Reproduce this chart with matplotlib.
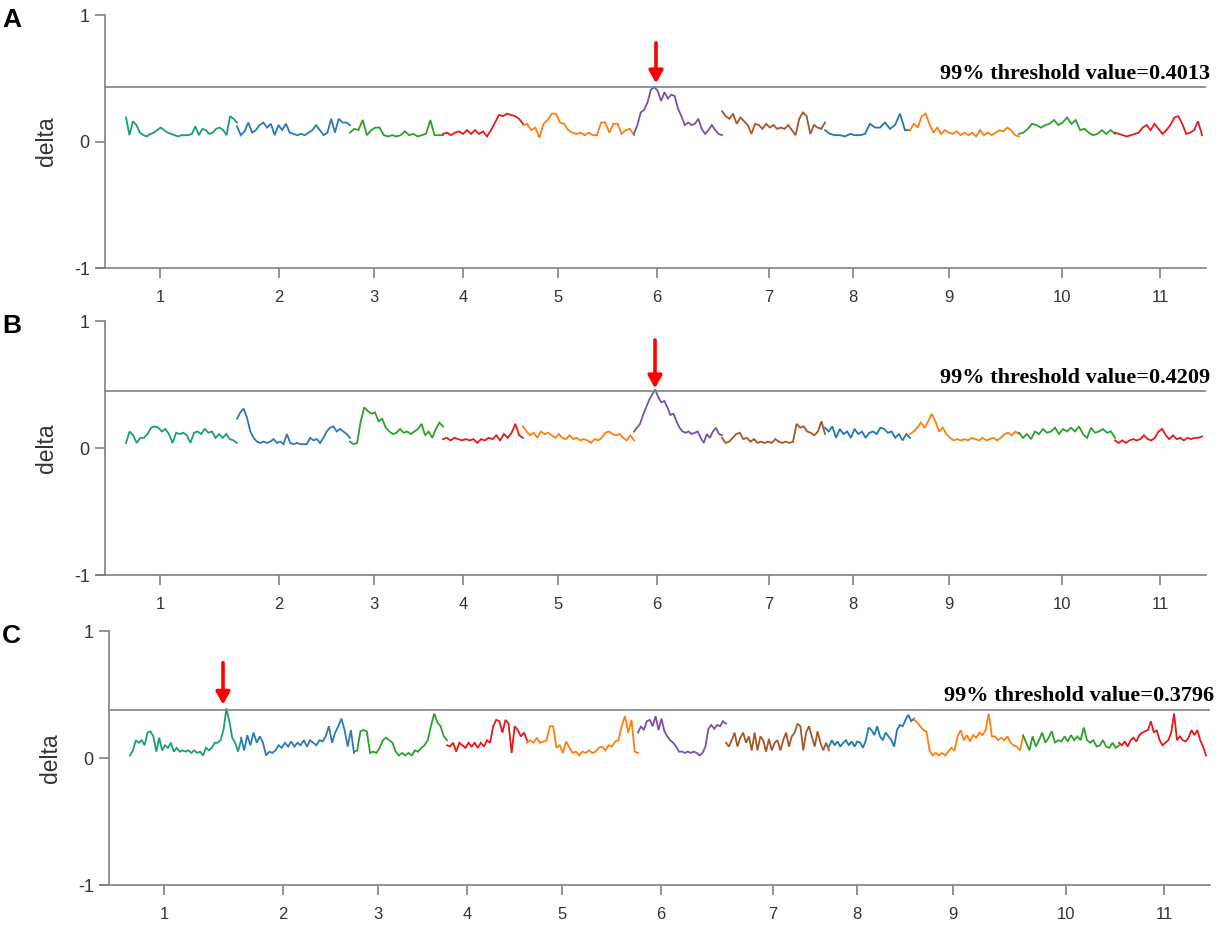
import numpy as np
import matplotlib
matplotlib.use('Agg')
import matplotlib.pyplot as plt

# chromosome layout (shared by the three panels)
chrom_len = [111, 113, 93, 80, 111, 88, 103, 85, 109, 96, 87]
chrom_colors = ['#1b9e77', '#2a7ab9', '#2ca02c', '#e31a1c', '#ff7f0e', '#7851a9',
                '#a65628', '#1f78b4', '#ff7f0e', '#2ca02c', '#e31a1c']
tick_pos = [34, 153, 248, 337, 432, 531, 643, 727, 823, 936, 1034]
tick_labels = ['1', '2', '3', '4', '5', '6', '7', '8', '9', '10', '11']

# panel A
delta_a = [
    [0.19, 0.05, 0.16, 0.13, 0.07, 0.05, 0.04, 0.06, 0.07, 0.09, 0.11, 0.09, 0.07, 0.06, 0.05, 0.04, 0.05,
     0.05, 0.05, 0.06, 0.12, 0.05, 0.10, 0.09, 0.06, 0.07, 0.10, 0.11, 0.09, 0.05, 0.20, 0.18, 0.15],
    [0.12, 0.05, 0.08, 0.15, 0.07, 0.09, 0.13, 0.15, 0.11, 0.14, 0.05, 0.13, 0.09, 0.14, 0.07, 0.06, 0.05,
     0.06, 0.05, 0.07, 0.09, 0.13, 0.09, 0.05, 0.07, 0.18, 0.07, 0.18, 0.15, 0.15, 0.13],
    [0.07, 0.10, 0.09, 0.17, 0.05, 0.09, 0.11, 0.11, 0.05, 0.04, 0.05, 0.04, 0.05, 0.08, 0.05, 0.06, 0.04,
     0.05, 0.06, 0.17, 0.05, 0.05, 0.05],
    [0.06, 0.07, 0.05, 0.07, 0.08, 0.06, 0.09, 0.06, 0.09, 0.06, 0.08, 0.04, 0.09, 0.15, 0.21, 0.20, 0.22,
     0.21, 0.20, 0.18, 0.14],
    [0.13, 0.14, 0.09, 0.11, 0.03, 0.14, 0.17, 0.22, 0.22, 0.15, 0.14, 0.09, 0.07, 0.06, 0.07, 0.05, 0.07,
     0.05, 0.05, 0.15, 0.15, 0.07, 0.14, 0.14, 0.06, 0.09, 0.10, 0.05],
    [0.06, 0.13, 0.23, 0.25, 0.31, 0.41, 0.43, 0.40, 0.32, 0.39, 0.34, 0.37, 0.36, 0.26, 0.20, 0.13, 0.15,
     0.13, 0.14, 0.18, 0.10, 0.06, 0.09, 0.13, 0.09, 0.06, 0.05],
    [0.24, 0.20, 0.18, 0.22, 0.14, 0.19, 0.16, 0.13, 0.06, 0.14, 0.13, 0.10, 0.14, 0.11, 0.13, 0.10, 0.11,
     0.10, 0.13, 0.09, 0.05, 0.18, 0.23, 0.20, 0.06, 0.13, 0.11, 0.10, 0.15],
    [0.09, 0.06, 0.05, 0.05, 0.04, 0.06, 0.05, 0.05, 0.06, 0.14, 0.11, 0.11, 0.15, 0.10, 0.13, 0.22, 0.09,
     0.09],
    [0.09, 0.14, 0.11, 0.20, 0.22, 0.14, 0.07, 0.11, 0.06, 0.09, 0.07, 0.06, 0.08, 0.05, 0.07, 0.05, 0.07,
     0.04, 0.09, 0.05, 0.07, 0.05, 0.07, 0.09, 0.08, 0.11, 0.09, 0.05, 0.04],
    [0.06, 0.07, 0.10, 0.14, 0.13, 0.11, 0.13, 0.14, 0.17, 0.13, 0.15, 0.19, 0.14, 0.17, 0.09, 0.10, 0.07,
     0.05, 0.06, 0.09, 0.06, 0.09, 0.06],
    [0.07, 0.06, 0.05, 0.04, 0.05, 0.06, 0.07, 0.11, 0.13, 0.09, 0.14, 0.10, 0.06, 0.09, 0.13, 0.19, 0.20,
     0.14, 0.06, 0.07, 0.09, 0.16, 0.05],
]

# panel B
delta_b = [
    [0.04, 0.13, 0.10, 0.04, 0.08, 0.08, 0.11, 0.16, 0.17, 0.16, 0.13, 0.15, 0.11, 0.04, 0.12, 0.11, 0.12,
     0.10, 0.04, 0.12, 0.13, 0.11, 0.15, 0.12, 0.13, 0.08, 0.11, 0.08, 0.11, 0.07, 0.06, 0.04],
    [0.23, 0.28, 0.31, 0.24, 0.13, 0.08, 0.05, 0.04, 0.05, 0.04, 0.05, 0.07, 0.04, 0.05, 0.03, 0.11, 0.04,
     0.03, 0.04, 0.03, 0.03, 0.03, 0.08, 0.06, 0.07, 0.04, 0.08, 0.13, 0.16, 0.17, 0.13, 0.15, 0.13, 0.11,
     0.08],
    [0.05, 0.03, 0.04, 0.21, 0.32, 0.29, 0.27, 0.28, 0.21, 0.23, 0.16, 0.13, 0.11, 0.12, 0.15, 0.12, 0.13,
     0.11, 0.13, 0.15, 0.19, 0.10, 0.13, 0.08, 0.15, 0.20, 0.17],
    [0.07, 0.08, 0.06, 0.08, 0.07, 0.06, 0.07, 0.06, 0.07, 0.04, 0.07, 0.06, 0.08, 0.07, 0.10, 0.06, 0.11,
     0.08, 0.12, 0.19, 0.10, 0.08],
    [0.17, 0.13, 0.10, 0.12, 0.08, 0.13, 0.11, 0.12, 0.10, 0.08, 0.11, 0.08, 0.07, 0.10, 0.07, 0.08, 0.06,
     0.07, 0.06, 0.04, 0.07, 0.06, 0.08, 0.12, 0.13, 0.11, 0.10, 0.11, 0.08, 0.06, 0.10, 0.06],
    [0.13, 0.16, 0.19, 0.26, 0.32, 0.38, 0.42, 0.46, 0.40, 0.36, 0.37, 0.32, 0.26, 0.27, 0.21, 0.16, 0.13,
     0.12, 0.13, 0.11, 0.12, 0.13, 0.08, 0.04, 0.11, 0.08, 0.13, 0.16, 0.11, 0.10],
    [0.08, 0.04, 0.05, 0.08, 0.11, 0.12, 0.07, 0.08, 0.05, 0.07, 0.04, 0.05, 0.04, 0.05, 0.04, 0.07, 0.05,
     0.04, 0.05, 0.04, 0.05, 0.19, 0.16, 0.17, 0.13, 0.12, 0.10, 0.13, 0.21, 0.11],
    [0.16, 0.13, 0.17, 0.08, 0.15, 0.11, 0.13, 0.08, 0.15, 0.11, 0.13, 0.08, 0.12, 0.13, 0.11, 0.16, 0.15,
     0.12, 0.13, 0.08, 0.11, 0.06, 0.11, 0.08],
    [0.11, 0.13, 0.16, 0.20, 0.16, 0.21, 0.27, 0.21, 0.13, 0.16, 0.11, 0.08, 0.06, 0.07, 0.06, 0.07, 0.06,
     0.08, 0.07, 0.06, 0.08, 0.06, 0.07, 0.08, 0.06, 0.08, 0.11, 0.12, 0.10, 0.13, 0.11],
    [0.12, 0.08, 0.11, 0.07, 0.13, 0.11, 0.15, 0.12, 0.13, 0.16, 0.11, 0.15, 0.13, 0.16, 0.13, 0.17, 0.11,
     0.08, 0.16, 0.12, 0.13, 0.15, 0.12, 0.13, 0.08],
    [0.06, 0.04, 0.06, 0.04, 0.06, 0.07, 0.06, 0.07, 0.10, 0.07, 0.06, 0.08, 0.13, 0.15, 0.10, 0.07, 0.10,
     0.07, 0.08, 0.06, 0.08, 0.07, 0.08, 0.08, 0.09],
]

# panel C
delta_c = [
    [0.02, 0.06, 0.14, 0.12, 0.14, 0.10, 0.20, 0.21, 0.17, 0.05, 0.16, 0.06, 0.10, 0.08, 0.12, 0.05, 0.08,
     0.05, 0.06, 0.05, 0.06, 0.04, 0.06, 0.04, 0.05, 0.02, 0.08, 0.06, 0.08, 0.12, 0.12, 0.14, 0.22, 0.39,
     0.29, 0.16, 0.12, 0.05, 0.14],
    [0.16, 0.06, 0.18, 0.10, 0.20, 0.12, 0.17, 0.12, 0.02, 0.05, 0.04, 0.06, 0.10, 0.08, 0.12, 0.09, 0.13,
     0.09, 0.12, 0.10, 0.14, 0.09, 0.14, 0.12, 0.10, 0.14, 0.13, 0.17, 0.25, 0.12, 0.20, 0.25, 0.31, 0.22,
     0.09, 0.22, 0.04],
    [0.05, 0.06, 0.21, 0.22, 0.21, 0.04, 0.05, 0.04, 0.08, 0.14, 0.16, 0.14, 0.12, 0.05, 0.02, 0.04, 0.02,
     0.04, 0.02, 0.06, 0.05, 0.08, 0.10, 0.14, 0.25, 0.35, 0.28, 0.25, 0.17, 0.14],
    [0.10, 0.09, 0.12, 0.05, 0.12, 0.10, 0.08, 0.12, 0.09, 0.12, 0.08, 0.12, 0.09, 0.14, 0.12, 0.25, 0.30,
     0.29, 0.20, 0.30, 0.27, 0.04, 0.25, 0.22, 0.17, 0.20, 0.14],
    [0.12, 0.14, 0.12, 0.16, 0.12, 0.13, 0.14, 0.25, 0.25, 0.08, 0.10, 0.04, 0.13, 0.08, 0.04, 0.05, 0.02,
     0.05, 0.04, 0.06, 0.04, 0.05, 0.08, 0.09, 0.06, 0.10, 0.09, 0.13, 0.14, 0.25, 0.33, 0.20, 0.30, 0.05,
     0.04],
    [0.20, 0.25, 0.22, 0.29, 0.30, 0.25, 0.33, 0.22, 0.31, 0.21, 0.17, 0.14, 0.12, 0.09, 0.05, 0.05, 0.04,
     0.05, 0.04, 0.05, 0.04, 0.02, 0.04, 0.09, 0.23, 0.26, 0.23, 0.26, 0.25, 0.29, 0.27],
    [0.12, 0.09, 0.14, 0.20, 0.09, 0.16, 0.20, 0.12, 0.17, 0.06, 0.20, 0.06, 0.17, 0.14, 0.05, 0.15, 0.06,
     0.12, 0.14, 0.06, 0.14, 0.20, 0.09, 0.17, 0.20, 0.27, 0.25, 0.06, 0.20, 0.25, 0.17, 0.09, 0.21, 0.12,
     0.06, 0.12, 0.06],
    [0.09, 0.14, 0.10, 0.13, 0.09, 0.12, 0.14, 0.10, 0.13, 0.09, 0.13, 0.12, 0.08, 0.14, 0.24, 0.22, 0.18,
     0.25, 0.17, 0.14, 0.20, 0.17, 0.14, 0.09, 0.22, 0.26, 0.25, 0.30, 0.34, 0.29, 0.31],
    [0.30, 0.28, 0.25, 0.22, 0.21, 0.06, 0.02, 0.04, 0.02, 0.04, 0.02, 0.05, 0.08, 0.06, 0.17, 0.22, 0.14,
     0.18, 0.13, 0.18, 0.16, 0.20, 0.18, 0.22, 0.35, 0.17, 0.17, 0.14, 0.16, 0.14, 0.17, 0.12, 0.10, 0.09,
     0.06, 0.17],
    [0.18, 0.12, 0.06, 0.17, 0.09, 0.14, 0.20, 0.12, 0.16, 0.21, 0.12, 0.14, 0.13, 0.17, 0.13, 0.18, 0.14,
     0.17, 0.14, 0.24, 0.14, 0.12, 0.14, 0.09, 0.10, 0.14, 0.09, 0.08, 0.12, 0.08, 0.10],
    [0.12, 0.10, 0.13, 0.09, 0.14, 0.16, 0.13, 0.18, 0.20, 0.21, 0.22, 0.29, 0.20, 0.22, 0.14, 0.10, 0.12,
     0.14, 0.20, 0.35, 0.14, 0.17, 0.14, 0.13, 0.16, 0.22, 0.18, 0.22, 0.14, 0.09, 0.02],
]

panel_letters = ['A', 'B', 'C']
threshold_line = [0.43, 0.45, 0.38]
threshold_text = ['99% threshold value=0.4013', '99% threshold value=0.4209', '99% threshold value=0.3796']
arrow_x = [530, 529, 93]
arrow_top = [0.78, 0.85, 0.75]
arrow_tip = [0.46, 0.47, 0.42]

W, H = 1218, 930
fig = plt.figure(figsize=(W / 100, H / 100), dpi=100)
plt.rcParams['font.family'] = ['Liberation Sans', 'DejaVu Sans']

axis_gray = '#808080'
# pixel boxes: left, y of +1, y of -1
boxes = [(96, 15, 268), (96, 321, 575), (100, 631, 885)]
xmin, xmax, yaxis_x = -30, 1080, -21

starts = np.concatenate([[0], np.cumsum(chrom_len)[:-1]])

for k, delta in enumerate([delta_a, delta_b, delta_c]):
    left, ytop, ybot = boxes[k]
    ax = fig.add_axes([left / W, (H - ybot) / H, (xmax - xmin) / W, (ybot - ytop) / H])
    ax.set_xlim(xmin, xmax)
    ax.set_ylim(-1, 1)

    for i, vals in enumerate(delta):
        x = starts[i] + np.linspace(0, chrom_len[i], len(vals))
        ax.plot(x, vals, color=chrom_colors[i], lw=1.3, solid_joinstyle='miter')

    ax.hlines(threshold_line[k], yaxis_x, xmax, color=axis_gray, lw=1.2)
    ax.annotate(threshold_text[k], xy=(1.004, threshold_line[k]),
                xycoords=('axes fraction', 'data'), xytext=(0, 6), textcoords='offset points',
                ha='right', va='baseline', fontsize=16, fontweight='bold',
                family='Liberation Serif', annotation_clip=False)

    # red arrow marking the peak
    ax.annotate('', xy=(arrow_x[k], arrow_tip[k]), xytext=(arrow_x[k], arrow_top[k]),
                arrowprops=dict(arrowstyle='-|>,head_length=0.75,head_width=0.42',
                                color='#ff0000', lw=2.6, mutation_scale=10,
                                shrinkA=0, shrinkB=0))

    for s in ['top', 'right']:
        ax.spines[s].set_visible(False)
    ax.spines['left'].set_position(('data', yaxis_x))
    for s in ['left', 'bottom']:
        ax.spines[s].set_color(axis_gray)
        ax.spines[s].set_linewidth(1.2)

    ax.set_yticks([-1, 0, 1])
    ax.set_yticklabels(['-1', '0', '1'])
    ax.set_xticks(tick_pos)
    ax.set_xticklabels(tick_labels)
    ax.tick_params(axis='y', direction='out', length=7, width=1.2, color=axis_gray,
                   pad=4, labelsize=13, labelcolor='#333333')
    ax.tick_params(axis='x', direction='out', length=7, width=1.2, color=axis_gray,
                   pad=9, labelsize=12, labelcolor='#333333')

    ax.set_ylabel('delta', fontsize=16.5, color='#333333')
    ax.yaxis.set_label_coords(-0.034, 0.5)

    fig.text(2 / W, 1 - (ytop + 5) / H, panel_letters[k], fontsize=19, fontweight='bold',
             ha='left', va='center')

fig.savefig('out.png', dpi=100)
